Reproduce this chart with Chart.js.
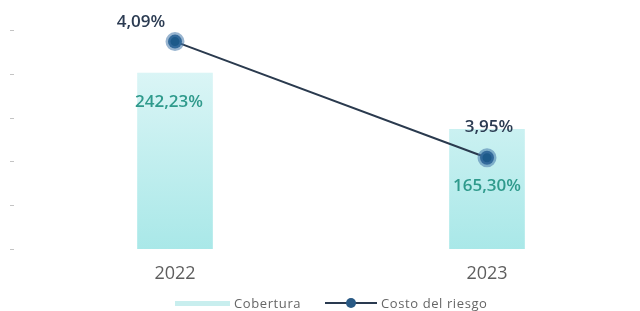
<!DOCTYPE html>
<html><head><meta charset="utf-8">
<script src="https://cdn.jsdelivr.net/npm/chart.js@4.4.0/dist/chart.umd.min.js"></script>
<style>
html,body{margin:0;padding:0;background:#fff;width:640px;height:311px;overflow:hidden;}
#wrap{position:relative;width:640px;height:311px;}
#legend{position:absolute;left:0;top:294px;width:640px;height:18px;font-family:"Open Sans",sans-serif;font-size:13px;color:#666;letter-spacing:0.6px;}
.li{position:absolute;top:0;line-height:18px;white-space:nowrap;}
</style></head>
<body><div id="wrap"><canvas id="c" width="640" height="311"></canvas>
<div id="legend">
<div class="li" style="left:175px;top:7px;width:55px;height:5px;background:#c8eeee;"></div>
<div class="li" style="left:234px;">Cobertura</div>
<div class="li" style="left:325px;top:8px;width:52px;height:2px;background:#2a3a50;"></div>
<div class="li" style="left:346px;top:4px;width:10px;height:10px;border-radius:50%;background:#2a5a85;"></div>
<div class="li" style="left:381px;">Costo del riesgo</div>
</div></div>
<script>
const categories = ["2022", "2023"];
const cobertura = [242.23, 165.30];
const costoRiesgo = [4.09, 3.95];
const coberturaLabels = ["242,23%", "165,30%"];
const costoLabels = ["4,09%", "3,95%"];

const ctx = document.getElementById('c').getContext('2d');

function barGradient(context){
  const chart = context.chart;
  const ca = chart.chartArea;
  if(!ca) return '#c8eeee';
  const g = chart.ctx.createLinearGradient(0, ca.top, 0, ca.bottom);
  g.addColorStop(0, '#e6f8f9');
  g.addColorStop(1, '#a9e8e8');
  return g;
}

const tickMarks = {
  id: 'tickMarks',
  afterDraw(chart){
    const s = chart.scales.y;
    const c = chart.ctx;
    c.save();
    c.strokeStyle = '#c4c4c4';
    c.lineWidth = 1;
    s.ticks.forEach(t => {
      const y = Math.round(s.getPixelForValue(t.value)) + 0.5;
      c.beginPath(); c.moveTo(10, y); c.lineTo(14, y); c.stroke();
    });
    c.restore();
  }
};

const labelPlugin = {
  id: 'valueLabels',
  afterDatasetsDraw(chart){
    const c = chart.ctx;
    c.save();
    c.textAlign = 'center';
    c.textBaseline = 'middle';
    const barMeta = chart.getDatasetMeta(0);
    c.font = '600 17px "Open Sans", sans-serif';
    c.fillStyle = '#2f9a8c';
    barMeta.data.forEach((el, i) => {
      if(i === 0) c.fillText(coberturaLabels[i], el.x - 6, el.y + 30);
      else c.fillText(coberturaLabels[i], el.x, el.y + 58);
    });
    const lineMeta = chart.getDatasetMeta(1);
    c.fillStyle = '#2b3b52';
    lineMeta.data.forEach((el, i) => {
      if(i === 0) c.fillText(costoLabels[i], el.x - 34, el.y - 19);
      else c.fillText(costoLabels[i], el.x + 2, el.y - 31);
    });
    c.restore();
  }
};

new Chart(ctx, {
  data: {
    labels: categories,
    datasets: [
      {
        type: 'bar',
        data: cobertura,
        backgroundColor: barGradient,
        borderColor: 'rgba(255,255,255,0.6)',
        borderWidth: 1,
        barThickness: 77,
        yAxisID: 'y',
        clip: false,
        order: 2
      },
      {
        type: 'line',
        data: costoRiesgo,
        borderColor: '#2a3a4e',
        borderWidth: 2,
        pointRadius: 7,
        pointBackgroundColor: '#1d5a8a',
        pointBorderColor: 'rgba(70,120,170,0.55)',
        pointBorderWidth: 5,
        yAxisID: 'y1',
        clip: false,
        order: 1
      }
    ]
  },
  options: {
    responsive: false,
    animation: false,
    layout: {padding: {top: 30, right: 153, left: 175, bottom: 0}},
    plugins: {legend: {display: false}, tooltip: {enabled: false}},
    scales: {
      x: {
        type: 'category',
        offset: false,
        grid: {display: false},
        border: {display: false},
        ticks: {
          padding: 6,
          color: '#5e5e5e',
          font: {family: '"Open Sans", sans-serif', size: 18},
          maxRotation: 0
        },
        afterFit: s => { s.height = 62; }
      },
      y: {
        display: false,
        min: 0,
        max: 300,
        ticks: {stepSize: 60}
      },
      y1: {
        display: false,
        min: 3.84,
        max: 4.104
      }
    }
  },
  plugins: [labelPlugin, tickMarks]
});
</script>
</body></html>
